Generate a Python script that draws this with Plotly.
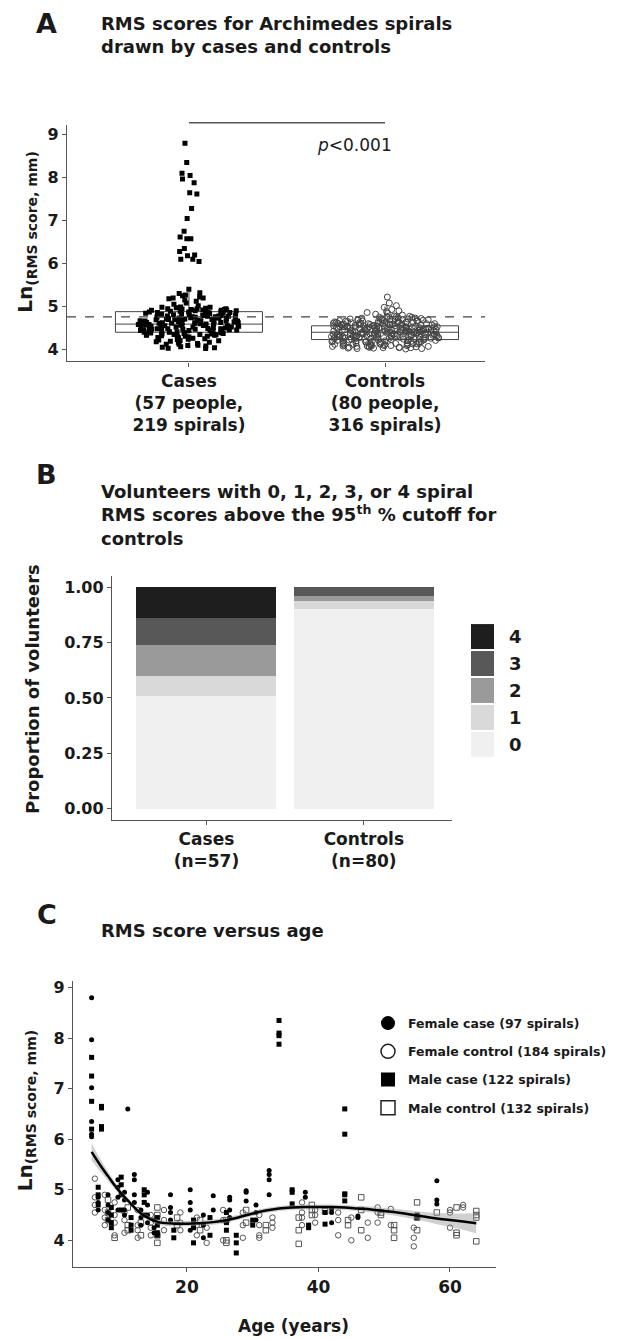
import plotly.graph_objects as go

# ---------------- DATA ----------------
# Panel A: Ln(RMS score) per spiral
case_vals = [8.80, 8.35, 8.10, 8.05, 7.97, 7.88, 7.65, 7.62, 7.28, 7.05, 6.75, 6.62, 6.58, 6.58,
             6.35, 6.28, 6.20, 6.18, 6.10, 6.10, 6.05,
             5.40, 5.32, 5.30, 5.27, 5.25, 5.22, 5.20, 5.20, 5.18, 5.15, 5.12, 5.08, 5.05, 5.02,
             4.97, 4.62, 4.41, 4.88, 4.55, 4.73, 4.36, 4.92, 4.60, 4.18, 4.81, 4.47, 4.66, 4.05,
             4.95, 4.52, 4.78, 4.33, 4.69, 4.44, 4.86, 4.58, 4.27, 4.91, 4.64, 4.39, 4.75, 4.12,
             4.83, 4.50, 4.98, 4.57, 4.35, 4.71, 4.46, 4.89, 4.22, 4.63, 4.80, 4.42, 4.03, 4.68,
             4.54, 4.94, 4.30, 4.77, 4.61, 4.48, 4.85, 4.08, 4.72, 4.37, 4.59, 4.90, 4.25, 4.65,
             4.43, 4.82, 4.53, 4.96, 4.14, 4.70, 4.40, 4.87, 4.56, 4.32, 4.76, 4.49, 4.02, 4.67,
             4.93, 4.45, 4.60, 4.20, 4.84, 4.51, 4.74, 4.38, 4.99, 4.63, 4.10, 4.79, 4.47, 4.57,
             4.28, 4.88, 4.66, 4.34, 4.73, 4.55, 4.91, 4.16, 4.62, 4.44, 4.81, 4.58, 4.06, 4.69,
             4.36, 4.86, 4.52, 4.23, 4.77, 4.61, 4.41, 4.95, 4.64, 4.31, 4.70, 4.48,
             4.71, 4.35, 4.58, 4.90, 4.26, 4.63, 4.47, 4.82, 4.54, 4.12, 4.76, 4.39, 4.68, 4.95,
             4.43, 4.60, 4.21, 4.87, 4.51, 4.74, 4.33, 4.66, 4.09, 4.79, 4.45, 4.57, 4.92, 4.29,
             4.69, 4.41, 4.84, 4.55, 4.17, 4.72, 4.48, 4.62, 4.98, 4.37, 4.65, 4.24, 4.80, 4.52,
             4.44, 4.89, 4.59, 4.31, 4.75, 4.04, 4.67, 4.50, 4.86, 4.40, 4.61, 4.19, 4.78, 4.46,
             4.93, 4.56, 4.34, 4.70]
control_vals = [5.22, 5.08, 5.02, 4.98, 4.93, 4.90, 4.88, 4.86, 4.84, 4.82, 4.80,
                4.45, 4.21, 4.62, 4.38, 4.05, 4.53, 4.30, 4.71, 4.17, 4.48, 4.66, 4.26, 4.41, 4.09,
                4.57, 4.34, 4.75, 4.12, 4.50, 4.28, 4.60, 4.43, 4.02, 4.69, 4.35, 4.19, 4.54, 4.46,
                4.24, 4.78, 4.39, 4.07, 4.58, 4.32, 4.64, 4.15, 4.49, 4.27, 4.72, 4.40, 4.04, 4.55,
                4.36, 4.22, 4.61, 4.44, 4.11, 4.67, 4.33, 4.52, 4.18, 4.47, 4.29, 4.74, 4.37, 4.06,
                4.59, 4.42, 4.25, 4.63, 4.14, 4.51, 4.31, 4.70, 4.45, 4.08, 4.56, 4.38, 4.20, 4.65,
                4.34, 4.48, 4.13, 4.53, 4.27, 4.76, 4.41, 4.03, 4.60, 4.35, 4.23, 4.68, 4.44, 4.16,
                4.50, 4.30, 4.62, 4.39, 4.10, 4.57, 4.46, 4.26, 4.73, 4.33, 4.19, 4.54, 4.42, 4.07,
                4.66, 4.37, 4.28, 4.49, 4.21, 4.59, 4.40, 4.12, 4.52, 4.32, 4.69, 4.45, 4.01, 4.56,
                4.36, 4.24, 4.63, 4.43, 4.15, 4.51, 4.29, 4.77, 4.38, 4.09, 4.58, 4.47, 4.22, 4.64,
                4.34, 4.18, 4.55, 4.41, 4.05, 4.61, 4.31, 4.48, 4.26, 4.71, 4.39, 4.13, 4.53, 4.44,
                4.20, 4.67, 4.35, 4.08, 4.50, 4.42, 4.25, 4.60, 4.33, 4.17, 4.57, 4.46, 4.04, 4.65,
                4.37, 4.28, 4.52, 4.40,
                4.43, 4.27, 4.58, 4.36, 4.11, 4.52, 4.31, 4.66, 4.20, 4.47, 4.62, 4.25, 4.40, 4.06,
                4.55, 4.33, 4.71, 4.15, 4.49, 4.29, 4.60, 4.38, 4.03, 4.64, 4.35, 4.22, 4.53, 4.44,
                4.18, 4.75, 4.41, 4.09, 4.57, 4.30, 4.68, 4.13, 4.50, 4.26, 4.73, 4.39, 4.05, 4.56,
                4.34, 4.21, 4.61, 4.46, 4.10, 4.69, 4.32, 4.51, 4.17, 4.48, 4.28, 4.77, 4.37, 4.08,
                4.59, 4.42, 4.24, 4.63, 4.14, 4.54, 4.31, 4.67, 4.45, 4.02, 4.58, 4.36, 4.19, 4.65,
                4.33, 4.47, 4.12, 4.52, 4.27, 4.72, 4.40, 4.07, 4.61, 4.35, 4.23, 4.70, 4.44, 4.16,
                4.49, 4.30, 4.63, 4.38, 4.11, 4.55, 4.46, 4.25, 4.74, 4.32, 4.20, 4.53, 4.41, 4.04,
                4.66, 4.37]
groups_a = ["Cases", "Controls"]
group_labels_a = ["Cases<br>(57 people,<br>219 spirals)", "Controls<br>(80 people,<br>316 spirals)"]
box_q1 = [4.40, 4.23]
box_median = [4.59, 4.40]
box_q3 = [4.88, 4.55]
box_lower = [4.02, 4.01]
box_upper = [5.37, 5.00]
cutoff_95 = 4.76
p_text = "<i>p</i>&lt;0.001"

# Panel B: proportion of volunteers by number of spirals above cutoff
groups_b = ["Cases", "Controls"]
group_labels_b = ["Cases<br>(n=57)", "Controls<br>(n=80)"]
levels_b = ["0", "1", "2", "3", "4"]
prop_cases = [0.509, 0.088, 0.140, 0.123, 0.140]
prop_controls = [0.900, 0.0375, 0.025, 0.0375, 0.0]
colors_b = ["#f0f0f0", "#d9d9d9", "#9a9a9a", "#585858", "#1e1e1e"]

# Panel C: Ln(RMS) vs age, grouped by person (age, [spirals])
fcase_ages = [5.5, 6.5, 8, 9.5, 10.5, 11, 12, 13, 14, 15, 17.5, 20.5, 22.5, 24, 26.5, 29, 30.5, 32.5, 38, 42, 46, 58]
fcase_vals = [[8.8, 7.97, 7.02, 6.35, 6.1, 6.05], [4.85, 4.75, 4.6], [4.9, 4.7, 4.55, 4.4],
              [5.2, 5.05, 4.85, 4.6], [4.95, 4.8, 4.6, 4.5], [6.6], [5.3, 5.2, 4.9, 4.75],
              [4.6, 4.45, 4.3], [4.95, 4.7, 4.5, 4.35], [4.4, 4.25, 4.15], [4.9, 4.65, 4.55, 4.4],
              [5.0, 4.75, 4.6, 4.2], [4.5, 4.3, 4.05], [4.88, 4.6], [4.85, 4.8, 4.6, 4.45],
              [4.98, 4.95, 4.78], [4.7, 4.55, 4.4], [5.38, 5.3, 5.2, 4.9], [4.95, 4.85],
              [4.62, 4.55, 4.35], [4.48, 4.45], [5.18, 4.8, 4.72]]
mcase_ages = [5.5, 7, 6.5, 8.5, 10, 11.5, 13.5, 15.5, 18, 21, 23.5, 26, 27.5, 30, 34, 36, 38.5, 41, 44, 55]
mcase_vals = [[7.62, 7.25, 6.75, 6.2], [6.65, 6.62, 6.25, 6.2], [5.05, 4.9, 4.7], [4.65, 4.5, 4.35, 4.25],
              [5.25, 5.1, 4.9, 4.6], [4.45, 4.3, 4.2], [5.0, 4.9, 4.75, 4.5], [4.45, 4.3, 4.15, 4.1],
              [4.2, 4.05], [4.4, 4.25, 3.95], [4.45, 4.1], [4.55, 4.35, 4.2], [4.1, 3.95, 3.75],
              [4.4, 4.3], [8.35, 8.1, 8.05, 7.88], [5.0, 4.95, 4.72], [4.3, 4.25], [4.55, 4.32],
              [6.6, 6.1, 4.92, 4.9, 4.78], [4.5, 4.45]]
fctrl_ages = [6, 7.5, 9, 10.5, 12.5, 14.5, 16.5, 19, 21.5, 23, 25.5, 28.5, 31, 33, 37.5, 39.5, 43, 45, 47.5, 49, 51, 54.5, 60, 62]
fctrl_vals = [[5.22, 4.85, 4.7, 4.55], [4.9, 4.6, 4.45, 4.3], [4.75, 4.5, 4.35, 4.1], [4.55, 4.4, 4.15],
              [4.6, 4.3, 4.2, 4.05], [4.5, 4.35, 4.25, 4.1], [4.6, 4.4, 4.2], [4.55, 4.35, 4.2],
              [4.45, 4.3, 4.1], [4.25, 3.95], [4.6, 4.4, 4.0], [4.55, 4.3, 4.05], [4.5, 4.3, 4.1, 4.05],
              [4.45, 4.35, 4.25], [4.75, 4.55, 4.45, 4.3], [4.6, 4.5, 4.35], [4.55, 4.4, 4.1], [4.45, 4.0],
              [4.35, 4.05], [4.65, 4.55, 4.35], [4.62, 4.3], [4.25, 4.05, 3.88], [4.6, 4.55, 4.25], [4.7, 4.65]]
mctrl_ages = [8, 9, 11, 13, 15.5, 18.5, 22, 26, 29, 32, 37, 39, 41, 44.5, 46.5, 49.5, 51.5, 55, 58, 61, 64]
mctrl_vals = [[4.8, 4.55, 4.4], [4.05], [4.65, 4.3, 4.2], [4.35, 4.1], [4.65, 4.5, 4.1, 3.95], [4.45, 4.3],
              [4.4, 4.2], [4.4, 4.0, 3.95], [4.6, 4.35], [4.3, 4.2], [4.45, 4.2, 3.93], [4.7, 4.6, 4.5],
              [4.58], [4.4, 4.3], [4.85, 4.6, 4.2], [4.55, 4.5], [4.3, 4.2, 4.05], [4.75, 4.45, 4.2],
              [4.55], [4.65, 4.15, 4.1], [4.58, 4.5, 4.45, 3.98]]
legend_names = ["Female case (97 spirals)", "Female control (184 spirals)",
                "Male case (122 spirals)", "Male control (132 spirals)"]

# smoothed fit with confidence band
fit_age = [5.5, 7, 8, 9, 10, 11, 12, 13, 14, 15, 16, 18, 20, 22, 24, 26, 28, 30, 32, 34, 36, 38, 40,
           42, 44, 46, 48, 50, 52, 54, 56, 58, 60, 62, 64]
fit_val = [5.75, 5.45, 5.27, 5.09, 4.93, 4.79, 4.65, 4.53, 4.45, 4.39, 4.35, 4.33, 4.33, 4.34, 4.36,
           4.40, 4.46, 4.53, 4.59, 4.63, 4.65, 4.66, 4.66, 4.66, 4.65, 4.63, 4.61, 4.58, 4.55, 4.51,
           4.47, 4.43, 4.40, 4.37, 4.34]
fit_lo = [5.58, 5.33, 5.18, 5.02, 4.87, 4.74, 4.60, 4.48, 4.40, 4.34, 4.30, 4.28, 4.28, 4.29, 4.31,
          4.35, 4.41, 4.48, 4.54, 4.58, 4.60, 4.61, 4.61, 4.61, 4.60, 4.58, 4.55, 4.52, 4.48, 4.43,
          4.38, 4.32, 4.27, 4.21, 4.14]
fit_hi = [5.92, 5.57, 5.36, 5.16, 4.99, 4.84, 4.70, 4.58, 4.50, 4.44, 4.40, 4.38, 4.38, 4.39, 4.41,
          4.45, 4.51, 4.58, 4.64, 4.68, 4.70, 4.71, 4.71, 4.71, 4.70, 4.68, 4.67, 4.64, 4.62, 4.59,
          4.56, 4.54, 4.53, 4.53, 4.54]


def flat(ages, vals):
    xs, ys = [], []
    for a, vs in zip(ages, vals):
        for v in vs:
            xs.append(a)
            ys.append(v)
    return xs, ys


# ---------------- LAYOUT HELPERS ----------------
W, H = 618, 1339
FONT = "DejaVu Sans"
INK = "#1a1a1a"
AX = "#555555"


def px(x):
    return x / W


def py(y):
    return 1 - y / H


fig = go.Figure()

# ---------------- PANEL A ----------------
fig.add_trace(go.Box(x=groups_a, q1=box_q1, median=box_median, q3=box_q3,
                     lowerfence=box_lower, upperfence=box_upper, width=0.75,
                     fillcolor="rgba(0,0,0,0)", line=dict(color="#444", width=1),
                     whiskerwidth=0, boxpoints=False, showlegend=False, xaxis="x", yaxis="y"))
fig.add_trace(go.Box(x=[groups_a[0]] * len(case_vals), y=case_vals, boxpoints="all", jitter=1,
                     pointpos=0, width=0.52, line=dict(width=0), fillcolor="rgba(0,0,0,0)",
                     marker=dict(symbol="square", size=5, color="black"),
                     showlegend=False, xaxis="x", yaxis="y"))
fig.add_trace(go.Box(x=[groups_a[1]] * len(control_vals), y=control_vals, boxpoints="all", jitter=1,
                     pointpos=0, width=0.55, line=dict(width=0), fillcolor="rgba(0,0,0,0)",
                     marker=dict(symbol="circle-open", size=6, color="#444",
                                 line=dict(width=1, color="#444")),
                     showlegend=False, xaxis="x", yaxis="y"))

# ---------------- PANEL B ----------------
for i, lev in enumerate(levels_b):
    fig.add_trace(go.Bar(x=groups_b, y=[prop_cases[i], prop_controls[i]], name=lev,
                         marker=dict(color=colors_b[i], line=dict(width=0)), width=0.89,
                         showlegend=False, xaxis="x2", yaxis="y2"))

# ---------------- PANEL C ----------------
fcx, fcy = flat(fcase_ages, fcase_vals)
mcx, mcy = flat(mcase_ages, mcase_vals)
ftx, fty = flat(fctrl_ages, fctrl_vals)
mtx, mty = flat(mctrl_ages, mctrl_vals)
fig.add_trace(go.Scatter(x=ftx, y=fty, mode="markers", showlegend=False, xaxis="x3", yaxis="y3",
                         marker=dict(symbol="circle-open", size=5.5, color="#555", line=dict(width=1))))
fig.add_trace(go.Scatter(x=mtx, y=mty, mode="markers", showlegend=False, xaxis="x3", yaxis="y3",
                         marker=dict(symbol="square-open", size=5.5, color="#555", line=dict(width=1))))
fig.add_trace(go.Scatter(x=fcx, y=fcy, mode="markers", showlegend=False, xaxis="x3", yaxis="y3",
                         marker=dict(symbol="circle", size=5, color="black")))
fig.add_trace(go.Scatter(x=mcx, y=mcy, mode="markers", showlegend=False, xaxis="x3", yaxis="y3",
                         marker=dict(symbol="square", size=5, color="black")))
fig.add_trace(go.Scatter(x=fit_age, y=fit_lo, mode="lines", line=dict(width=0, shape="spline"),
                         showlegend=False, hoverinfo="skip", xaxis="x3", yaxis="y3"))
fig.add_trace(go.Scatter(x=fit_age, y=fit_hi, mode="lines", line=dict(width=0, shape="spline"),
                         fill="tonexty", fillcolor="rgba(150,150,150,0.45)",
                         showlegend=False, hoverinfo="skip", xaxis="x3", yaxis="y3"))
fig.add_trace(go.Scatter(x=fit_age, y=fit_val, mode="lines",
                         line=dict(color="black", width=2.5, shape="spline"),
                         showlegend=False, xaxis="x3", yaxis="y3"))

# legend entries for panel C
leg_styles = [dict(symbol="circle", color="black"),
              dict(symbol="circle-open", color="#222", line=dict(width=1.5)),
              dict(symbol="square", color="black"),
              dict(symbol="square-open", color="#222", line=dict(width=1.5))]
for name, st, grp in zip(legend_names, leg_styles, ["g1", "g2", "g3", "g4"]):
    fig.add_trace(go.Scatter(x=[None], y=[None], mode="markers", name=name, legendgroup=grp,
                             marker=dict(size=14, **st), xaxis="x3", yaxis="y3"))

# ---------------- AXES ----------------
tickfont = dict(family=FONT, size=16, color=INK, weight="bold")
catfont = dict(family=FONT, size=17, color=INK, weight="bold")
common = dict(showline=True, linecolor=AX, linewidth=1.3, ticks="outside", ticklen=4,
              tickcolor=AX, showgrid=False, zeroline=False)

fig.update_layout(
    width=W, height=H, margin=dict(l=0, r=0, t=0, b=0),
    paper_bgcolor="white", plot_bgcolor="white",
    boxmode="overlay", barmode="stack",
    font=dict(family=FONT, color=INK),
    xaxis=dict(domain=[px(67), px(485)], anchor="y", type="category", categoryarray=groups_a,
               range=[-0.622, 1.51], tickmode="array", tickvals=groups_a, ticktext=group_labels_a,
               tickfont=catfont, **common),
    yaxis=dict(domain=[py(360), py(123)], anchor="x", range=[3.72, 9.23],
               tickvals=[4, 5, 6, 7, 8, 9], tickfont=tickfont, **common),
    xaxis2=dict(domain=[px(112), px(452)], anchor="y2", type="category", categoryarray=groups_b,
                range=[-0.6, 1.56], tickmode="array", tickvals=groups_b, ticktext=group_labels_b,
                tickfont=catfont, **common),
    yaxis2=dict(domain=[py(819), py(575)], anchor="x2", range=[-0.05, 1.05],
                tickvals=[0, 0.25, 0.5, 0.75, 1.0], ticktext=["0.00", "0.25", "0.50", "0.75", "1.00"],
                tickfont=tickfont, **common),
    xaxis3=dict(domain=[px(73), px(496)], anchor="y3", range=[2.67, 67.0],
                tickvals=[20, 40, 60], tickfont=catfont, **common),
    yaxis3=dict(domain=[py(1267), py(980)], anchor="x3", range=[3.47, 9.14],
                tickvals=[4, 5, 6, 7, 8, 9], tickfont=tickfont, **common),
    legend=dict(x=px(368), y=py(1008), xanchor="left", yanchor="top", bgcolor="rgba(0,0,0,0)",
                font=dict(family=FONT, size=12.5, color=INK, weight="bold"),
                tracegroupgap=9, traceorder="grouped", itemsizing="trace"),
)

# ---------------- SHAPES ----------------
shapes = [
    # 95th percentile cutoff
    dict(type="line", xref="x domain", yref="y", x0=0, x1=1, y0=cutoff_95, y1=cutoff_95,
         line=dict(color="#444", width=1.2, dash="dash")),
    # significance bracket
    dict(type="line", xref="x", yref="paper", x0=0, x1=1, y0=py(121), y1=py(121),
         line=dict(color="#555", width=1.5)),
]
# legend keys for panel B (top: 4 ... bottom: 0)
key_top = 623
for k, lev in enumerate(reversed(levels_b)):
    idx = len(levels_b) - 1 - k
    y0 = key_top + k * 27
    shapes.append(dict(type="rect", xref="paper", yref="paper", x0=px(471), x1=px(494),
                       y0=py(y0 + 25), y1=py(y0), fillcolor=colors_b[idx], line=dict(width=0)))
fig.update_layout(shapes=shapes)

# ---------------- ANNOTATIONS ----------------
ann = []


def text(x, y, s, size, bold=True, xanchor="left", yanchor="middle", angle=0):
    ann.append(dict(xref="paper", yref="paper", x=px(x), y=py(y), text=s, showarrow=False,
                    xanchor=xanchor, yanchor=yanchor, textangle=angle, align="left",
                    font=dict(family=FONT, size=size, color=INK,
                              weight="bold" if bold else "normal")))


text(46, 22, "A", 27, xanchor="center")
text(99, 33, "RMS scores for Archimedes spirals<br>drawn by cases and controls", 18)
text(354, 143, p_text, 17, bold=False, xanchor="center")
text(26, 231, "Ln<sub>(RMS score, mm)</sub>", 20, xanchor="center", angle=-90)

text(46, 473, "B", 27, xanchor="center")
text(99, 514, "Volunteers with 0, 1, 2, 3, or 4 spiral<br>RMS scores above the 95<sup>th</sup> % cutoff for<br>controls", 18)
text(33, 688, "Proportion of volunteers", 18, xanchor="center", angle=-90)
for k, lev in enumerate(reversed(levels_b)):
    text(507, key_top + k * 27 + 12.5, lev, 18)

text(47, 914, "C", 27, xanchor="center")
text(99, 930, "RMS score versus age", 18)
text(26, 1111, "Ln<sub>(RMS score, mm)</sub>", 20, xanchor="center", angle=-90)
text(293, 1326, "Age (years)", 17, xanchor="center")

fig.update_layout(annotations=ann)

fig.write_html("out.html", config={"displayModeBar": False},
               post_script="document.body.style.margin='0';document.body.style.padding='0';")
